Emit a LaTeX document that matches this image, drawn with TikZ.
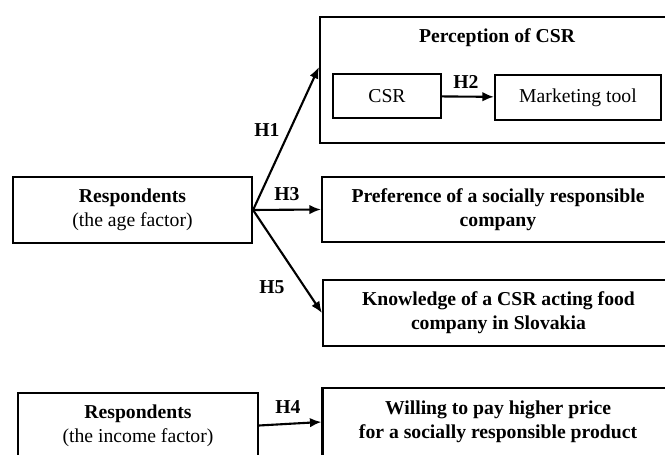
\documentclass[tikz,border=0pt]{standalone}
\usepackage{fontspec}
\setmainfont{Liberation Serif}
\usepackage{tikz}
\usetikzlibrary{arrows.meta,shapes}

\begin{document}
\begin{tikzpicture}[>={Latex[length=2.3mm,width=1.9mm]}, line width=1.2pt]
	\tikzstyle{every node} = [font=\fontsize{11.2}{13.6}\selectfont]
	\tikzstyle{hbox} = [rectangle, draw, align=center, inner sep=0pt]
	\tikzstyle{hlab} = [font=\fontsize{11.2}{13.6}\selectfont\bfseries]
	\useasboundingbox (0,0) rectangle (13.3,-9.1);
	\clip (0,0) rectangle (13.3,-9.1);
	% perception block
	\node[hbox, minimum width=7.08cm, minimum height=2.52cm] (percep) at (9.94,-1.6) {};
	\node[hlab] (ptitle) at (9.94,-0.76) {Perception of CSR};
	\node[hbox, minimum width=2.16cm, minimum height=0.88cm] (csr) at (7.74,-1.92) {CSR};
	\node[hbox, minimum width=3.32cm, minimum height=0.9cm] (mkt) at (11.56,-1.95) {Marketing tool};
	\draw [->] (csr) -- (mkt);
	\node[hlab] (h2) at (9.32,-1.64) {H2};
	% age factor
	\node[hbox, minimum width=4.78cm, minimum height=1.32cm] (age) at (2.65,-4.2)
		{\textbf{Respondents}\\(the age factor)};
	\node[hbox, minimum width=7.04cm, minimum height=1.3cm, font=\fontsize{11.2}{13.6}\selectfont\bfseries] (pref) at (9.96,-4.19)
		{Preference of a socially responsible\\company};
	\node[hbox, minimum width=7.02cm, minimum height=1.32cm, font=\fontsize{11.2}{13.6}\selectfont\bfseries] (know) at (9.97,-6.26)
		{Knowledge of a CSR acting food\\company in Slovakia};
	\coordinate (h1end) at ([yshift=0.26cm]percep.west);
	\draw [->] (age.east) -- (h1end);
	\draw [->] (age.east) -- (pref.west);
	\draw [->] (age.east) -- (know.west);
	\node[hlab] (h1) at (5.34,-2.6) {H1};
	\node[hlab] (h3) at (5.74,-3.88) {H3};
	\node[hlab] (h5) at (5.44,-5.74) {H5};
	% income factor
	\node[hbox, minimum width=4.8cm, minimum height=1.3cm] (income) at (2.76,-8.51)
		{\textbf{Respondents}\\(the income factor)};
	\node[hbox, minimum width=7.02cm, minimum height=1.36cm, font=\fontsize{11.2}{13.6}\selectfont\bfseries] (pay) at (9.96,-8.44)
		{Willing to pay higher price\\for a socially responsible product};
	\draw [->] (income.east) -- (pay.west);
	\node[hlab] (h4) at (5.76,-8.14) {H4};
\end{tikzpicture}
\end{document}
